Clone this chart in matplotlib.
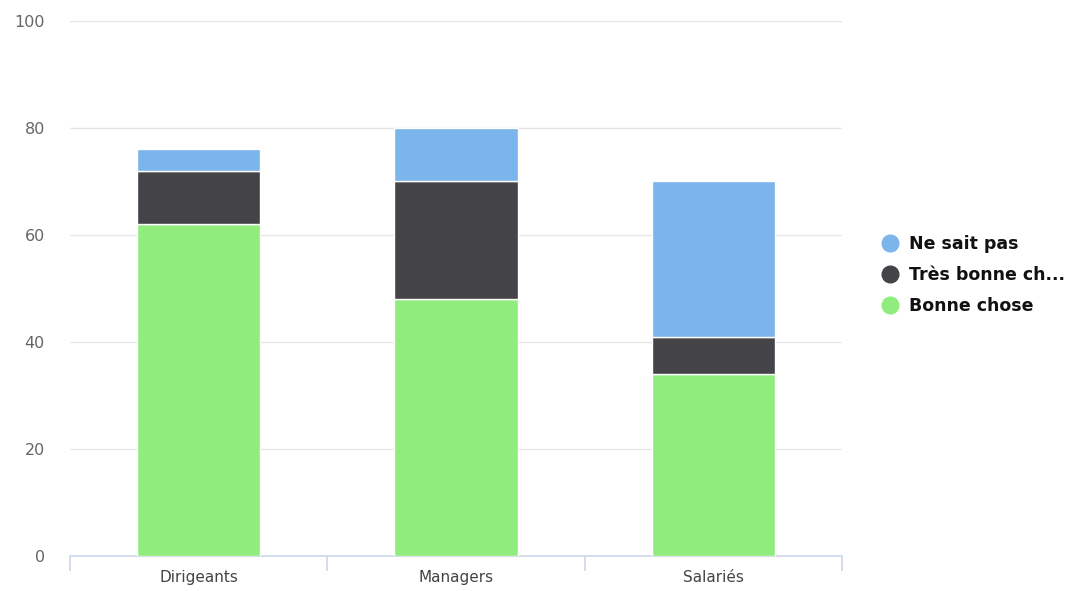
import numpy as np
import matplotlib.pyplot as plt
from matplotlib.lines import Line2D

# Survey answers per group (percent)
categories = ['Dirigeants', 'Managers', 'Salariés']
bonne_chose = [62, 48, 34]
tres_bonne = [10, 22, 7]
ne_sait_pas = [4, 10, 29]

series_names = ['Ne sait pas', 'Très bonne ch...', 'Bonne chose']
colors = {'Ne sait pas': '#7cb5ec', 'Très bonne ch...': '#434348', 'Bonne chose': '#90ed7d'}

fig = plt.figure(figsize=(10.8, 5.91), dpi=100)
ax = fig.add_axes([0.0648, 0.0592, 0.7148, 0.9053])

x = np.arange(len(categories))
width = 0.48
b1 = np.array(bonne_chose)
b2 = b1 + np.array(tres_bonne)

ax.bar(x, bonne_chose, width, color=colors['Bonne chose'], edgecolor='white', linewidth=1, zorder=3)
ax.bar(x, tres_bonne, width, bottom=b1, color=colors['Très bonne ch...'], edgecolor='white', linewidth=1, zorder=3)
ax.bar(x, ne_sait_pas, width, bottom=b2, color=colors['Ne sait pas'], edgecolor='white', linewidth=1, zorder=3)

ax.set_xlim(-0.5, len(categories) - 0.5)
ax.set_ylim(0, 100)
ax.set_yticks(range(0, 101, 20))
ax.grid(axis='y', color='#e6e6e6', linewidth=1, zorder=0)

for side in ['top', 'right', 'left']:
    ax.spines[side].set_visible(False)
ax.spines['bottom'].set_color('#ccd6eb')
ax.spines['bottom'].set_linewidth(1.2)

# category boundaries as tick marks, labels centered between them
ax.set_xticks(np.arange(-0.5, len(categories), 1.0))
ax.set_xticklabels([])
ax.set_xticks(x, minor=True)
ax.set_xticklabels(categories, minor=True, fontsize=11, color='#444444')
ax.tick_params(axis='x', which='major', length=11, color='#ccd6eb', width=1.2)
ax.tick_params(axis='x', which='minor', length=0, pad=10)
ax.tick_params(axis='y', length=0, labelsize=11.5, labelcolor='#666666', pad=18)

handles = [Line2D([], [], marker='o', linestyle='none', markersize=12,
                  markerfacecolor=colors[n], markeredgecolor=colors[n]) for n in series_names]
leg = fig.legend(handles, series_names, loc='center left', bbox_to_anchor=(0.802, 0.535),
                 frameon=False, handlelength=1.0, handletextpad=0.55, labelspacing=0.75,
                 prop={'weight': 'bold', 'size': 12.5})
for t in leg.get_texts():
    t.set_color('#111111')

fig.savefig('out.png', dpi=100)
